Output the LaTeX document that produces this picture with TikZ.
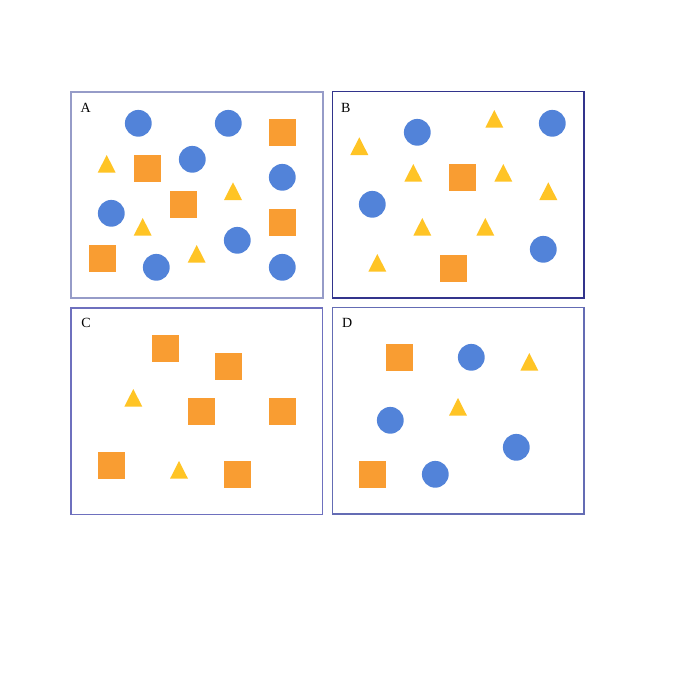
\documentclass[tikz,border=0pt]{standalone}
\usepackage{fontspec}
\setmainfont{Liberation Serif}
\definecolor{bluec}{RGB}{82,131,217}
\definecolor{orangec}{RGB}{249,157,50}
\definecolor{yellowc}{RGB}{255,196,37}
\definecolor{frameA}{RGB}{150,156,200}
\definecolor{frameB}{RGB}{50,52,140}
\definecolor{frameC}{RGB}{110,112,190}
\definecolor{frameD}{RGB}{100,108,180}
\newcommand{\bcirc}[2]{\fill[bluec] (#1,#2) circle (13.4pt);}
\newcommand{\osq}[2]{\fill[orangec] (#1-13.5,#2-13.5) rectangle (#1+13.5,#2+13.5);}
\newcommand{\ytri}[2]{\fill[yellowc] (#1-9,#2) -- (#1+9,#2) -- (#1,#2-17.7) -- cycle;}
\begin{document}
\begin{tikzpicture}[x=1pt,y=-1pt,
  panel/.style={line width=1.3pt},
  lbl/.style={font=\fontsize{14}{16}\selectfont, inner sep=0pt}]
\useasboundingbox (0,0) rectangle (681,681);
\fill[white] (0,0) rectangle (681,681);
% frames
\draw[panel,frameA] (71,92) rectangle (323,298);
\draw[panel,frameB] (332.5,91.5) rectangle (584,298);
\draw[panel,frameC] (71,308) rectangle (322.7,514.7);
\draw[panel,frameD] (332.5,307.5) rectangle (584,514);
% labels
\node[lbl] (la) at (85.7,107.7) {A};
\node[lbl] (lb) at (345.7,108.3) {B};
\node[lbl] (lc) at (86,323.3) {C};
\node[lbl] (ld) at (347.3,323.3) {D};
% Panel A
\bcirc{138.3}{123.3}
\bcirc{228.3}{123.3}
\osq{282.3}{132.3}
\ytri{106.7}{172.7}
\osq{147.3}{168.3}
\bcirc{192.3}{159.3}
\bcirc{282.3}{177.3}
\ytri{233}{200}
\bcirc{111.3}{213.3}
\osq{183.3}{204.3}
\osq{282.3}{222.3}
\ytri{142.7}{235.7}
\bcirc{237.3}{240.3}
\osq{102.3}{258.3}
\bcirc{156.3}{267.3}
\ytri{196.7}{262.7}
\bcirc{282.3}{267.3}
% Panel B
\ytri{494.3}{127.7}
\bcirc{552.3}{123.3}
\bcirc{417.3}{132.3}
\ytri{359.3}{155}
\ytri{413.3}{181.7}
\osq{462.3}{177.3}
\ytri{503.3}{181.7}
\ytri{548.3}{200}
\bcirc{372.3}{204.3}
\ytri{422.3}{235.7}
\ytri{485.3}{235.7}
\bcirc{543.3}{249.3}
\ytri{377.3}{271.7}
\osq{453.3}{268.3}
% Panel C
\osq{165.3}{348.3}
\osq{228.3}{366.3}
\ytri{133.3}{406.7}
\osq{201.3}{411.3}
\osq{282.3}{411.3}
\osq{111.3}{465.3}
\ytri{179}{478.7}
\osq{237.3}{474.3}
% Panel D
\osq{399.3}{357.3}
\bcirc{471.3}{357.3}
\ytri{529.3}{370.7}
\ytri{458}{415.7}
\bcirc{390.3}{420.3}
\bcirc{516.3}{447.3}
\osq{372.3}{474.3}
\bcirc{435.3}{474.3}
\end{tikzpicture}
\end{document}
